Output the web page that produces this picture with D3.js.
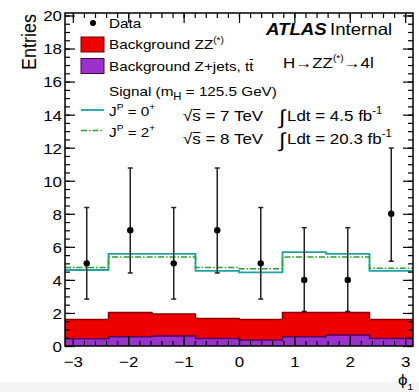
<!DOCTYPE html>
<html>
<head>
<meta charset="utf-8">
<script src="https://cdn.jsdelivr.net/npm/d3@7"></script>
<style>
  body { margin: 0; background: #fff; }
  svg { display: block; font-family: "Liberation Sans", Arial, Helvetica, sans-serif; }
</style>
</head>
<body>
<div id="chart"></div>
<script>
// phi_1 distribution, H -> ZZ(*) -> 4l
var binEdges = [-3.1416, -2.3562, -1.5708, -0.7854, 0, 0.7854, 1.5708, 2.3562, 3.1416];
var dataCounts = [5, 7, 5, 7, 5, 4, 4, 8];
var dataErrLow = [2.16, 2.58, 2.16, 2.58, 2.16, 1.91, 1.91, 2.87];
var dataErrHigh = [3.38, 3.77, 3.38, 3.77, 3.38, 3.16, 3.16, 3.98];
var bkgZjets = [0.44, 0.56, 0.60, 0.46, 0.36, 0.56, 0.66, 0.46];
var bkgZZ = [1.17, 1.46, 1.33, 1.21, 1.25, 1.46, 1.36, 1.15];
// expected total (background + signal) for each spin hypothesis
var spin0Total = [4.60, 5.58, 5.58, 4.55, 4.45, 5.68, 5.58, 4.55];
var spin2Total = [4.75, 5.38, 5.38, 4.75, 4.68, 5.38, 5.38, 4.70];
var yTicks = [0, 2, 4, 6, 8, 10, 12, 14, 16, 18, 20];
var xTicks = [-3, -2, -1, 0, 1, 2, 3];

var W = 419, H = 392;
var margin = { top: 13, right: 6, bottom: 46, left: 65 },
    width = W - margin.left - margin.right,
    height = H - margin.top - margin.bottom;
var sx = 1.13; // text is a little wide in the original

var x = d3.scaleLinear().domain([-Math.PI, Math.PI]).range([0, width]);
var y = d3.scaleLinear().domain([0, 20.15]).range([height, 0]);

var svg = d3.select("#chart").append("svg")
    .attr("width", W)
    .attr("height", H);

// light strip at the very bottom of the picture
svg.append("rect").attr("x", 0).attr("y", 382).attr("width", W).attr("height", 10).attr("fill", "#f4f4f4");

var g = svg.append("g").attr("transform", "translate(" + margin.left + "," + margin.top + ")");

function stepPts(vals) {
    var p = vals.map(function(v, i) { return [binEdges[i], v]; });
    p.push([binEdges[binEdges.length - 1], vals[vals.length - 1]]);
    return p;
}
var zzTop = bkgZZ.map(function(v, i) { return v + bkgZjets[i]; });

var area = d3.area()
    .x(function(d) { return x(d[0]); })
    .y0(y(0))
    .y1(function(d) { return y(d[1]); })
    .curve(d3.curveStepAfter);
var line = d3.line()
    .x(function(d) { return x(d[0]); })
    .y(function(d) { return y(d[1]); })
    .curve(d3.curveStepAfter);

// stacked backgrounds
g.append("path").attr("d", area(stepPts(zzTop))).attr("fill", "#ee0000");
g.append("path").attr("d", line(stepPts(zzTop))).attr("fill", "none").attr("stroke", "#8a0000").attr("stroke-width", 1.5);
g.append("path").attr("d", area(stepPts(bkgZjets))).attr("fill", "#9933cc");
g.append("path").attr("d", line(stepPts(bkgZjets))).attr("fill", "none").attr("stroke", "#5a005a").attr("stroke-width", 1.5);

// signal hypotheses
g.append("path").attr("d", line(stepPts(spin0Total))).attr("fill", "none").attr("stroke", "#1fa3a8").attr("stroke-width", 1.8);
g.append("path").attr("d", line(stepPts(spin2Total))).attr("fill", "none").attr("stroke", "#2ca02c")
    .attr("stroke-width", 1.5).attr("stroke-dasharray", "6,2,1.5,2");

// data with errors
var centers = dataCounts.map(function(v, i) { return (binEdges[i] + binEdges[i + 1]) / 2; });
var pts = g.append("g").selectAll("g").data(dataCounts).enter().append("g");
pts.append("line")
    .attr("x1", function(d, i) { return x(centers[i]); })
    .attr("x2", function(d, i) { return x(centers[i]); })
    .attr("y1", function(d, i) { return y(d - dataErrLow[i]); })
    .attr("y2", function(d, i) { return y(d + dataErrHigh[i]); })
    .attr("stroke", "#222").attr("stroke-width", 1.5);
pts.append("line")
    .attr("x1", function(d, i) { return x(centers[i]) - 2.5; })
    .attr("x2", function(d, i) { return x(centers[i]) + 2.5; })
    .attr("y1", function(d, i) { return y(d + dataErrHigh[i]); })
    .attr("y2", function(d, i) { return y(d + dataErrHigh[i]); })
    .attr("stroke", "#222").attr("stroke-width", 1.5);
pts.append("line")
    .attr("x1", function(d, i) { return x(centers[i]) - 2.5; })
    .attr("x2", function(d, i) { return x(centers[i]) + 2.5; })
    .attr("y1", function(d, i) { return y(d - dataErrLow[i]); })
    .attr("y2", function(d, i) { return y(d - dataErrLow[i]); })
    .attr("stroke", "#222").attr("stroke-width", 1.5);
pts.append("circle")
    .attr("cx", function(d, i) { return x(centers[i]); })
    .attr("cy", function(d) { return y(d); })
    .attr("r", 3.2).attr("fill", "#000");

// axes, ticks all pointing inwards
var yMinor = d3.range(0, 20.01, 0.5);
var xMinor = d3.range(-3, 3.01, 0.2);

function styleAxis(sel) {
    sel.select(".domain").remove();
    sel.selectAll(".tick line").attr("stroke", "#000").attr("stroke-width", 1.2);
}
g.append("g").call(d3.axisLeft(y).tickValues(yMinor).tickSize(-5).tickFormat("")).call(styleAxis);
g.append("g").attr("transform", "translate(" + width + ",0)")
    .call(d3.axisRight(y).tickValues(yMinor).tickSize(-5).tickFormat("")).call(styleAxis);
g.append("g").attr("transform", "translate(" + width + ",0)")
    .call(d3.axisRight(y).tickValues(yTicks).tickSize(-10).tickFormat("")).call(styleAxis);
g.append("g").attr("transform", "translate(0," + height + ")")
    .call(d3.axisBottom(x).tickValues(xMinor).tickSize(-5).tickFormat("")).call(styleAxis);
g.append("g")
    .call(d3.axisTop(x).tickValues(xMinor).tickSize(-5).tickFormat("")).call(styleAxis);
g.append("g")
    .call(d3.axisTop(x).tickValues(xTicks).tickSize(-10).tickFormat("")).call(styleAxis);

var yAxis = g.append("g")
    .call(d3.axisLeft(y).tickValues(yTicks).tickSize(-10).tickPadding(3).tickFormat(d3.format("d")))
    .call(styleAxis);
yAxis.selectAll("text")
    .attr("font-size", 15).attr("fill", "#000")
    .attr("x", -3 / sx).attr("dy", "0.36em")
    .attr("transform", "scale(" + sx + ",1)");

var xAxis = g.append("g").attr("transform", "translate(0," + height + ")")
    .call(d3.axisBottom(x).tickValues(xTicks).tickSize(-10).tickFormat(d3.format("d")))
    .call(styleAxis);
xAxis.selectAll("text")
    .attr("font-size", 15).attr("fill", "#000")
    .attr("y", 21).attr("dy", 0)
    .attr("transform", "scale(" + sx + ",1)");

g.append("rect")
    .attr("width", width).attr("height", height)
    .attr("fill", "none").attr("stroke", "#000").attr("stroke-width", 1.5);

// text helper: stretched text group
function txt(px, py) {
    return svg.append("g").attr("transform", "translate(" + px + "," + py + ") scale(" + sx + ",1)");
}

// axis titles
txt(36, 14).append("text")
    .attr("transform", "rotate(-90)")
    .attr("text-anchor", "end")
    .attr("font-size", 18)
    .text("Entries");
var xt = txt(398, 385).append("text").attr("font-size", 15);
xt.append("tspan").text("\u03d5");
xt.append("tspan").attr("font-size", 9).attr("dy", 5).text("1");

// legend
var lg = svg.append("g");
lg.append("circle").attr("cx", 93).attr("cy", 23).attr("r", 3).attr("fill", "#000");
lg.append("rect").attr("x", 81).attr("y", 37).attr("width", 23).attr("height", 15)
    .attr("fill", "#ee0000").attr("stroke", "#6a0000").attr("stroke-width", 1);
lg.append("rect").attr("x", 81).attr("y", 58.5).attr("width", 23).attr("height", 15)
    .attr("fill", "#9933cc").attr("stroke", "#4a004a").attr("stroke-width", 1);
lg.append("line").attr("x1", 81).attr("x2", 104).attr("y1", 110).attr("y2", 110)
    .attr("stroke", "#1fa3a8").attr("stroke-width", 1.8);
lg.append("line").attr("x1", 81).attr("x2", 104).attr("y1", 130.5).attr("y2", 130.5)
    .attr("stroke", "#2ca02c").attr("stroke-width", 1.5).attr("stroke-dasharray", "6,2,1.5,2");

var fs = 13.5;
txt(109, 28).append("text").attr("font-size", fs).text("Data");

var t1 = txt(109, 49).append("text").attr("font-size", fs);
t1.append("tspan").text("Background ZZ");
t1.append("tspan").attr("font-size", 9).attr("dy", -6).text("(*)");

var g2 = txt(109, 71);
var t2 = g2.append("text").attr("font-size", fs).text("Background Z+jets, tt");
function overbar(group, textSel, idx, top) {
    var r = textSel.node().getExtentOfChar(idx);
    group.append("line")
        .attr("x1", r.x + 0.5).attr("x2", r.x + r.width - 0.3)
        .attr("y1", top).attr("y2", top)
        .attr("stroke", "#000").attr("stroke-width", 1);
}
overbar(g2, t2, 20, -11.5);

var t3 = txt(109, 96).append("text").attr("font-size", fs);
t3.append("tspan").text("Signal (m");
t3.append("tspan").attr("font-size", 10).attr("dy", 4).text("H");
t3.append("tspan").attr("dy", -4).text(" = 125.5 GeV)");

function spinLabel(py, val) {
    var t = txt(109, py).append("text").attr("font-size", fs);
    t.append("tspan").text("J");
    t.append("tspan").attr("font-size", 9).attr("dy", -6).text("P");
    t.append("tspan").attr("dy", 6).text(" = " + val);
    t.append("tspan").attr("font-size", 9).attr("dy", -6).text("+");
}
spinLabel(115.5, "0");
spinLabel(136.5, "2");

// ATLAS label
txt(266, 35).append("text").attr("font-size", 16.5).attr("font-weight", "bold").attr("font-style", "italic").text("ATLAS");
txt(330, 35).append("text").attr("font-size", 16.5).text("Internal");

var t4 = txt(283, 68).append("text").attr("font-size", 15);
t4.append("tspan").text("H\u2192ZZ");
t4.append("tspan").attr("font-size", 9).attr("dy", -7).text("(*)");
t4.append("tspan").attr("dy", 7).text("\u21924l");

function lumiLine(py, energy, lumi) {
    var gg = txt(183, py);
    var t = gg.append("text").attr("font-size", 15).text("\u221as = " + energy + " TeV");
    overbar(gg, t, 1, -11.5);
    var gi = txt(279, py + 3);
    gi.append("text").attr("font-size", 20).text("\u222b");
    var tl = txt(287, py).append("text").attr("font-size", 15);
    tl.append("tspan").text("Ldt = " + lumi + " fb");
    tl.append("tspan").attr("font-size", 10).attr("dy", -7).text("-1");
}
lumiLine(121, "7", "4.5");
lumiLine(144, "8", "20.3");
</script>
</body>
</html>
